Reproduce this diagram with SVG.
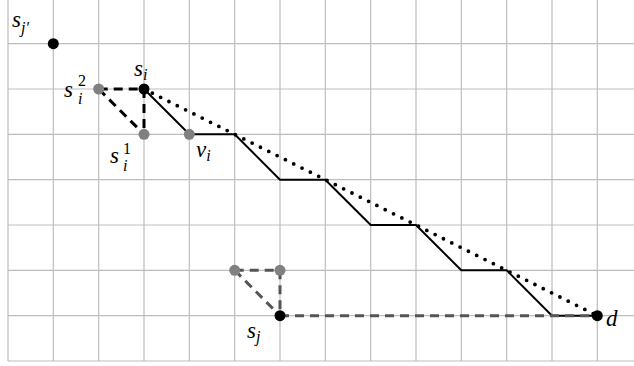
<svg xmlns="http://www.w3.org/2000/svg" width="634" height="366" viewBox="0 0 634 366">
<style>
.grid line{stroke:#bdbdbd;stroke-width:1.2}
.bd{stroke:#000;stroke-width:3;stroke-dasharray:9 6;fill:none}
.gd{stroke:#555;stroke-width:3;stroke-dasharray:9 6;fill:none}
.blk{fill:#000}
.gry{fill:#808080}
</style>
<rect width="634" height="366" fill="#fff"/>
<g class="grid">
<line x1="8" y1="0" x2="8" y2="361"/><line x1="53.3" y1="0" x2="53.3" y2="361"/><line x1="98.7" y1="0" x2="98.7" y2="361"/><line x1="144" y1="0" x2="144" y2="361"/><line x1="189.3" y1="0" x2="189.3" y2="361"/><line x1="234.7" y1="0" x2="234.7" y2="361"/><line x1="280" y1="0" x2="280" y2="361"/><line x1="325.3" y1="0" x2="325.3" y2="361"/><line x1="370.7" y1="0" x2="370.7" y2="361"/><line x1="416" y1="0" x2="416" y2="361"/><line x1="461.3" y1="0" x2="461.3" y2="361"/><line x1="506.7" y1="0" x2="506.7" y2="361"/><line x1="552" y1="0" x2="552" y2="361"/><line x1="597.3" y1="0" x2="597.3" y2="361"/>
<line x1="8" y1="361" x2="634" y2="361"/><line x1="8" y1="315.7" x2="634" y2="315.7"/><line x1="8" y1="270.3" x2="634" y2="270.3"/><line x1="8" y1="225" x2="634" y2="225"/><line x1="8" y1="179.7" x2="634" y2="179.7"/><line x1="8" y1="134.3" x2="634" y2="134.3"/><line x1="8" y1="89" x2="634" y2="89"/><line x1="8" y1="43.7" x2="634" y2="43.7"/>
</g>
<g id="connectors">
<polyline points="144,89 189.3,134.3 234.7,134.3 280,179.7 325.3,179.7 370.7,225 416,225 461.3,270.3 506.7,270.3 552,315.7 597.3,315.7" fill="none" stroke="#000" stroke-width="2"/>
<line x1="144" y1="89" x2="597.3" y2="315.7" stroke="#000" stroke-width="3.8" stroke-linecap="round" stroke-dasharray="0 9.3"/>
<line class="bd" x1="98.7" y1="89" x2="144" y2="89"/>
<line class="bd" x1="144" y1="89" x2="144" y2="134.3"/>
<line class="bd" x1="98.7" y1="89" x2="144" y2="134.3"/>
<line class="gd" x1="234.7" y1="270.3" x2="280" y2="270.3"/>
<line class="gd" x1="280" y1="270.3" x2="280" y2="315.7"/>
<line class="gd" x1="234.7" y1="270.3" x2="280" y2="315.7"/>
<line class="gd" x1="280" y1="315.7" x2="597.3" y2="315.7"/>
</g>
<g id="labels" font-family="Liberation Serif, serif" font-style="italic" font-size="23" fill="#000">
<g id="sjp"><circle class="blk" cx="53.3" cy="43.7" r="5.5"/><text x="12" y="27">s<tspan font-size="16" dy="6">j′</tspan></text></g>
<g id="si"><circle class="blk" cx="144" cy="89" r="5.5"/><text x="134" y="76">s<tspan font-size="16" dy="4">i</tspan></text></g>
<g id="si2"><circle class="gry" cx="98.7" cy="89" r="5.5"/><text x="64" y="97">s</text><text x="78" y="86" font-size="16" font-style="normal">2</text><text x="78" y="104" font-size="16">i</text></g>
<g id="si1"><circle class="gry" cx="144" cy="134.3" r="5.5"/><text x="110" y="163">s</text><text x="123" y="154" font-size="16" font-style="normal">1</text><text x="123" y="171" font-size="16">i</text></g>
<g id="vi"><circle class="gry" cx="189.3" cy="134.3" r="5.5"/><text x="196" y="157">v<tspan font-size="16" dy="4">i</tspan></text></g>
<g id="a"><circle class="gry" cx="234.7" cy="270.3" r="5.5"/></g>
<g id="b"><circle class="gry" cx="280" cy="270.3" r="5.5"/></g>
<g id="sj"><circle class="blk" cx="280" cy="315.7" r="5.5"/><text x="247" y="338">s<tspan font-size="16" dy="4">j</tspan></text></g>
<g id="d"><circle class="blk" cx="597.3" cy="315.7" r="5.5"/><text x="606" y="326">d</text></g>
</g>
</svg>
